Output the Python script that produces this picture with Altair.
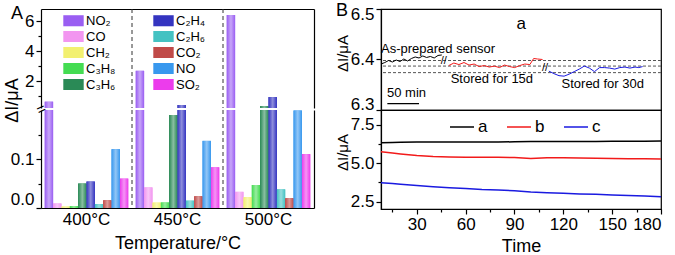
import altair as alt
import pandas as pd

FONT = "Liberation Sans"

# ---------------- Panel A data ----------------
temps = ["400°C", "450°C", "500°C"]
gases = ["NO₂", "CO", "CH₂", "C₃H₈", "C₃H₆", "C₂H₄", "C₂H₆", "CO₂", "NO", "SO₂"]
gas_colors = ["#9A5EF2", "#F296F0", "#F2F070", "#44DC52", "#2A8A56",
              "#3434C0", "#44C2C2", "#C04A48", "#3898EE", "#EC3CEC"]
resp_400 = [0.62, 0.009, 0.003, 0.004, 0.050, 0.054, 0.008, 0.016, 0.120, 0.060]
resp_450 = [2.68, 0.042, 0.011, 0.011, 0.190, 0.400, 0.015, 0.024, 0.137, 0.083]
resp_500 = [6.40, 0.033, 0.022, 0.047, 0.330, 0.930, 0.038, 0.020, 0.199, 0.110]
boundaries = ["450°C", "500°C"]

# ---------------- Panel B (top) data ----------------
a_min = [0, 6, 12, 18, 24, 30, 36, 42, 48, 54, 60, 66, 72, 78, 84, 90, 96]
a_val = [6.391, 6.394, 6.398, 6.395, 6.399, 6.396, 6.401, 6.397, 6.402, 6.405,
         6.403, 6.407, 6.404, 6.406, 6.403, 6.408, 6.409]
b_min = [107, 115, 123, 131, 139, 147, 155, 163, 171, 179, 187, 195, 203, 211,
         219, 227, 235, 241, 247, 255]
b_val = [6.388, 6.393, 6.390, 6.394, 6.389, 6.391, 6.386, 6.388, 6.385, 6.387,
         6.384, 6.389, 6.386, 6.384, 6.388, 6.391, 6.390, 6.402, 6.401, 6.400]
c_min = [265, 273, 281, 289, 297, 305, 313, 321, 329, 337, 345, 353, 361, 369,
         377, 385, 393, 401, 407, 413]
c_val = [6.377, 6.372, 6.368, 6.367, 6.371, 6.376, 6.381, 6.387, 6.383, 6.376,
         6.384, 6.384, 6.383, 6.381, 6.384, 6.385, 6.383, 6.385, 6.384, 6.386]
dash_levels = [6.398, 6.387, 6.374]
break_min = [99, 259]
break_val = [6.397, 6.383]
note_text = ["As-prepared sensor", "Stored for 15d", "Stored for 30d", "50 min"]
note_min = [0, 110, 285, 9.5]
note_val = [6.421, 6.361, 6.351, 6.334]
scale_bar = [10, 60, 6.3125]

# ---------------- Panel B (bottom) data ----------------
t_min = [8, 15, 20, 30, 40, 50, 60, 70, 80, 90, 100, 110, 120, 130, 140, 150, 160, 170, 180]
sa = [6.33, 6.35, 6.36, 6.37, 6.38, 6.37, 6.37, 6.38, 6.37, 6.39, 6.40, 6.40, 6.41,
      6.40, 6.41, 6.42, 6.42, 6.43, 6.44]
sb = [5.74, 5.66, 5.60, 5.50, 5.44, 5.41, 5.38, 5.39, 5.38, 5.37, 5.30, 5.36, 5.35,
      5.33, 5.32, 5.30, 5.29, 5.29, 5.28]
sc = [3.74, 3.68, 3.64, 3.55, 3.48, 3.41, 3.36, 3.30, 3.27, 3.21, 3.13, 3.08, 3.05,
      3.01, 2.98, 2.94, 2.91, 2.87, 2.82]
series = ["a", "b", "c"]
series_colors = ["#000000", "#F21A1A", "#1A1AE0"]

# ---------------- helpers ----------------
def lighten(hex_color, f):
    h = hex_color.lstrip("#")
    r, g, b = (int(h[i:i + 2], 16) for i in (0, 2, 4))
    r, g, b = (round(c + (255 - c) * f) for c in (r, g, b))
    return "#{:02X}{:02X}{:02X}".format(r, g, b)


def bar_gradient(c):
    return alt.LinearGradient(
        gradient="linear", x1=0, x2=1, y1=0, y2=0,
        stops=[alt.GradientStop(offset=0, color=c),
               alt.GradientStop(offset=0.5, color=lighten(c, 0.45)),
               alt.GradientStop(offset=1, color=c)],
    )


# ---------------- tables ----------------
rows = []
for t, vals in zip(temps, [resp_400, resp_450, resp_500]):
    for g, v in zip(gases, vals):
        rows.append({"temp": t, "gas": g, "resp": v})
dfA = pd.DataFrame(rows)
dfDiv = pd.DataFrame({"temp": boundaries})

dfBt = pd.concat([
    pd.DataFrame({"m": a_min, "v": a_val, "s": "a"}),
    pd.DataFrame({"m": b_min, "v": b_val, "s": "b"}),
    pd.DataFrame({"m": c_min, "v": c_val, "s": "c"}),
])
dfDash = pd.DataFrame({"v": dash_levels})
dfBreak = pd.DataFrame({"m": break_min, "v": break_val, "t": ["//", "//"]})
dfNote = pd.DataFrame({"m": note_min, "v": note_val, "t": note_text})
dfBar = pd.DataFrame({"m": [scale_bar[0]], "m2": [scale_bar[1]], "v": [scale_bar[2]]})
dfA_lab = pd.DataFrame({"t": ["a"], "m": [214], "v": [6.47]})

dfBb = pd.concat([
    pd.DataFrame({"t": t_min, "v": sa, "s": "a"}),
    pd.DataFrame({"t": t_min, "v": sb, "s": "b"}),
    pd.DataFrame({"t": t_min, "v": sc, "s": "c"}),
])


def minor_axis(major_test, **kw):
    """Axis whose minor ticks are shorter and unlabeled."""
    return alt.Axis(
        tickSize={"condition": {"test": major_test, "value": 5}, "value": 3},
        labelExpr="(" + major_test + ") ? datum.label : ''",
        **kw,
    )


# ---------------- Panel A ----------------
WA, HA_top, HA_bot = 273, 99, 98
xA = alt.Scale(domain=temps, paddingInner=0, paddingOuter=0)
offA = alt.XOffset("gas:N", scale=alt.Scale(domain=gases, paddingInner=0, paddingOuter=0.45))
colA = alt.Color(
    "gas:N",
    scale=alt.Scale(domain=gases, range=gas_colors),
    legend=alt.Legend(orient="none", legendX=24, legendY=3, columns=2, title=None,
                      symbolType="M-1.2,-0.65H1.2V0.65H-1.2Z", symbolSize=289,
                      symbolStrokeWidth=0, symbolOpacity=1, labelFontSize=13,
                      labelOffset=4, columnPadding=37, rowPadding=0),
)
ysA_top = alt.Scale(domain=[0.2, 6.8], nice=False, zero=False)
ysA_bot = alt.Scale(domain=[0, 0.2], nice=False, zero=False)
ax_top = alt.Axis(orient="top", labels=False, ticks=False, title=None)
ax_bot = alt.Axis(orient="bottom", ticks=False, title="Temperature/°C", labelPadding=3,
                  titlePadding=7, labelAngle=0)


def gradient_layers(ysc, xaxis):
    out = []
    for g, c in zip(gases, gas_colors):
        out.append(
            alt.Chart(dfA[dfA["gas"] == g]).mark_bar(clip=True, color=bar_gradient(c)).encode(
                x=alt.X("temp:N", scale=xA, axis=xaxis),
                xOffset=offA,
                y=alt.Y("resp:Q", scale=ysc, axis=None),
            )
        )
    return out


A_top = alt.layer(
    alt.Chart(dfA).mark_bar(clip=True).encode(
        x=alt.X("temp:N", scale=xA, axis=ax_top),
        xOffset=offA,
        y=alt.Y("resp:Q", scale=ysA_top,
                axis=minor_axis("datum.value % 2 == 0", values=[1, 2, 3, 4, 5, 6], title=None)),
        color=colA,
    ),
    *gradient_layers(ysA_top, ax_top),
    alt.Chart(dfDiv).mark_rule(strokeDash=[4, 3], color="#333333", strokeWidth=1).encode(
        x=alt.X("temp:N", scale=xA, bandPosition=0, axis=ax_top)
    ),
    alt.Chart(dfA).mark_rule(opacity=0, clip=True).encode(
        y=alt.Y("resp:Q", scale=ysA_top,
                axis=alt.Axis(orient="right", labels=False, ticks=False, title=None))
    ),
    alt.Chart(pd.DataFrame({"t": ["A"]})).mark_text(fontSize=18, align="center", baseline="middle").encode(
        text="t:N", x=alt.value(-24), y=alt.value(5)
    ),
).resolve_scale(y="independent").properties(
    width=WA, height=HA_top, view=alt.ViewBackground(stroke=None)
)

A_bot = alt.layer(
    alt.Chart(dfA).mark_bar(clip=True).encode(
        x=alt.X("temp:N", scale=xA, axis=ax_bot),
        xOffset=offA,
        y=alt.Y("resp:Q", scale=ysA_bot,
                axis=minor_axis("round(datum.value * 100) % 10 == 0",
                                values=[0, 0.05, 0.1, 0.15], format=".1f", title="ΔI/μA",
                                labelFlush=True, titleX=-20, titleY=-10, titleAlign="center",
                                titleAngle=270)),
        color=alt.Color("gas:N", scale=alt.Scale(domain=gases, range=gas_colors), legend=None),
    ),
    *gradient_layers(ysA_bot, ax_bot),
    alt.Chart(dfDiv).mark_rule(strokeDash=[4, 3], color="#333333", strokeWidth=1).encode(
        x=alt.X("temp:N", scale=xA, bandPosition=0, axis=ax_bot)
    ),
    alt.Chart(dfA).mark_rule(opacity=0, clip=True).encode(
        y=alt.Y("resp:Q", scale=ysA_bot,
                axis=alt.Axis(orient="right", labels=False, ticks=False, title=None))
    ),
    alt.Chart(pd.DataFrame({"t": ["="]})).mark_text(fontSize=15, angle=335, align="center", baseline="middle").encode(
        text="t:N", x=alt.value(0), y=alt.value(-1)
    ),
).resolve_scale(y="independent").properties(
    width=WA, height=HA_bot, view=alt.ViewBackground(stroke=None)
)

panelA = alt.vconcat(A_top, A_bot, spacing=2, bounds="flush").resolve_scale(color="independent")

# ---------------- Panel B ----------------
WB, HB_top, HB_bot = 280, 101, 99
xB_top = alt.Scale(domain=[0, 442], nice=False, zero=False)
yB_top = alt.Scale(domain=[6.3, 6.5], nice=False, zero=False)
colB = alt.Scale(domain=series, range=series_colors)

B_top = alt.layer(
    alt.Chart(dfDash).mark_rule(strokeDash=[3, 2], color="#555555", strokeWidth=1).encode(
        y=alt.Y("v:Q", scale=yB_top,
                axis=minor_axis("round(datum.value * 100) % 10 == 0",
                                values=[6.3, 6.35, 6.4, 6.45, 6.5], format=".1f", title="ΔI/μA",
                                titleFontSize=15, titleX=-31, titleY=44, titleAlign="center",
                                titleAngle=270, labelFlush=True, labelFlushOffset=3))
    ),
    alt.Chart(dfBt).mark_line(strokeWidth=1).encode(
        x=alt.X("m:Q", scale=xB_top, axis=None),
        y=alt.Y("v:Q", scale=yB_top),
        color=alt.Color("s:N", scale=colB, legend=None),
    ),
    alt.Chart(dfBreak).mark_text(fontSize=11, align="center", baseline="middle").encode(
        x=alt.X("m:Q", scale=xB_top, axis=None), y=alt.Y("v:Q", scale=yB_top), text="t:N"
    ),
    alt.Chart(dfNote).mark_text(fontSize=13, align="left", baseline="middle").encode(
        x=alt.X("m:Q", scale=xB_top, axis=None), y=alt.Y("v:Q", scale=yB_top), text="t:N"
    ),
    alt.Chart(dfA_lab).mark_text(fontSize=17, align="left", baseline="middle").encode(
        x=alt.X("m:Q", scale=xB_top, axis=None), y=alt.Y("v:Q", scale=yB_top), text="t:N"
    ),
    alt.Chart(dfBar).mark_rule(color="black", strokeWidth=1.2).encode(
        x=alt.X("m:Q", scale=xB_top, axis=None), x2="m2:Q", y=alt.Y("v:Q", scale=yB_top)
    ),
    alt.Chart(pd.DataFrame({"t": ["B"]})).mark_text(fontSize=18, align="center", baseline="middle").encode(
        text="t:N", x=alt.value(-39), y=alt.value(2)
    ),
).properties(width=WB, height=HB_top)

B_bot = alt.Chart(dfBb).mark_line(strokeWidth=1.5).encode(
    x=alt.X("t:Q", scale=alt.Scale(domain=[8, 180], nice=False, zero=False),
            axis=minor_axis("datum.value % 30 == 0",
                            values=[15, 30, 45, 60, 75, 90, 105, 120, 135, 150, 165, 180],
                            title="Time", labelPadding=2, titlePadding=5)),
    y=alt.Y("v:Q", scale=alt.Scale(domain=[2.03, 8.45], nice=False, zero=False),
            axis=minor_axis("round(datum.value * 100) % 250 == 0",
                            values=[2.5, 3.75, 5.0, 6.25, 7.5], format=".1f", title="ΔI/μA",
                            titleFontSize=15, titleX=-31, titleY=42, titleAlign="center",
                            titleAngle=270)),
    color=alt.Color("s:N", scale=colB,
                    legend=alt.Legend(orient="none", legendX=68, legendY=4, direction="horizontal",
                                      title=None, symbolType="stroke", symbolSize=576,
                                      symbolStrokeWidth=1.5, labelFontSize=17, columnPadding=16,
                                      labelOffset=3,
                                      labelExpr="datum.label == 'b' ? 'b   ' : datum.label")),
).properties(width=WB, height=HB_bot)

panelB = alt.vconcat(B_top, B_bot, spacing=0, bounds="flush").resolve_scale(color="independent")

chart = alt.hconcat(panelA, panelB, spacing=20, bounds="full").resolve_scale(
    color="independent"
).properties(
    padding={"left": 3, "top": 1, "right": 3, "bottom": 3}
).configure_axis(
    labelFont=FONT, titleFont=FONT, labelFontSize=17, titleFontSize=18,
    titleFontWeight="normal", labelColor="black", titleColor="black",
    domainColor="black", tickColor="black", domainWidth=1.2, tickWidth=1.2,
    grid=False,
).configure_view(stroke="black", strokeWidth=1.2).configure_legend(
    labelFont=FONT, labelColor="black"
).configure_text(font=FONT, color="black")

chart.save("out.html", embed_options={"renderer": "svg", "actions": False})
